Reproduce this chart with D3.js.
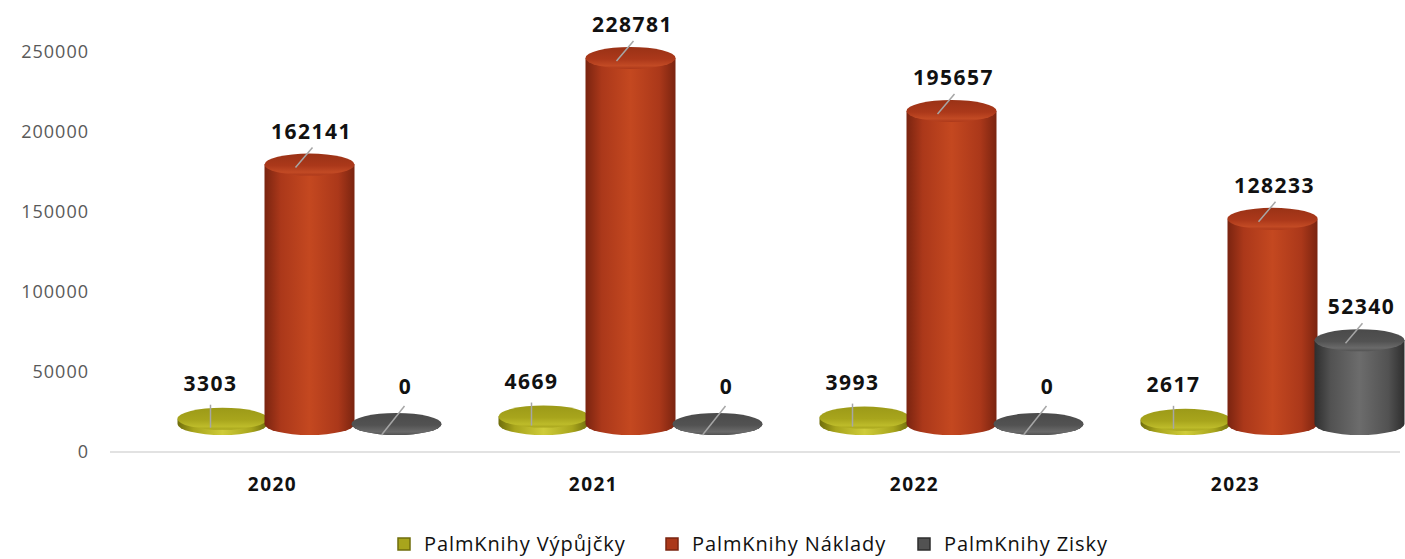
<!DOCTYPE html>
<html>
<head>
<meta charset="utf-8">
<script src="https://cdn.jsdelivr.net/npm/d3@7"></script>
<style>
  body { margin: 0; background: #fff; }
  svg { font-family: "Open Sans", Lato, sans-serif; }
</style>
</head>
<body>
<svg id="chart" width="1405" height="559"></svg>
<script>
const years = ["2020", "2021", "2022", "2023"];
const series = ["PalmKnihy Výpůjčky", "PalmKnihy Náklady", "PalmKnihy Zisky"];
const vypujcky = [3303, 4669, 3993, 2617];
const naklady = [162141, 228781, 195657, 128233];
const zisky = [0, 0, 0, 52340];
const yTicks = [0, 50000, 100000, 150000, 200000, 250000];

const values = [vypujcky, naklady, zisky];
const colors = [
  { dark: "#6f6d0c", mid: "#a8a51c", light: "#cfcc3a", top: "#bdbb2a", cap: "#9c9a18" },
  { dark: "#7a2410", mid: "#ab381a", light: "#c44820", top: "#c24a24", cap: "#9a3216" },
  { dark: "#2e2e2e", mid: "#525252", light: "#6c6c6c", top: "#6a6a6a", cap: "#4a4a4a" }
];

const svg = d3.select("#chart");
const defs = svg.append("defs");

colors.forEach((c, i) => {
  const g = defs.append("linearGradient").attr("id", "body" + i)
    .attr("x1", 0).attr("x2", 1).attr("y1", 0).attr("y2", 0);
  g.append("stop").attr("offset", "0%").attr("stop-color", c.dark);
  g.append("stop").attr("offset", "18%").attr("stop-color", c.mid);
  g.append("stop").attr("offset", "50%").attr("stop-color", c.light);
  g.append("stop").attr("offset", "82%").attr("stop-color", c.mid);
  g.append("stop").attr("offset", "100%").attr("stop-color", c.dark);
  const t = defs.append("linearGradient").attr("id", "top" + i)
    .attr("x1", 0).attr("x2", 0).attr("y1", 0).attr("y2", 1);
  t.append("stop").attr("offset", "0%").attr("stop-color", c.cap);
  t.append("stop").attr("offset", "55%").attr("stop-color", c.mid);
  t.append("stop").attr("offset", "85%").attr("stop-color", c.top);
  t.append("stop").attr("offset", "100%").attr("stop-color", c.mid);
});

const y = d3.scaleLinear().domain([0, 250000]).range([452, 52]);
const x = d3.scaleBand().domain(years).range([112, 1396]);
const xs = d3.scalePoint().domain(series).range([-87, 87]);

const depth = 28;   // bars sit behind the front edge of the floor
const shiftX = 37;
const rx = 45, ry = 11;

// floor line
svg.append("line")
  .attr("x1", 110).attr("x2", 1400)
  .attr("y1", y(0)).attr("y2", y(0))
  .attr("stroke", "#d9d9d9").attr("stroke-width", 1.5);

// y axis
const yAxis = d3.axisLeft(y).tickValues(yTicks).tickSize(0).tickPadding(0)
  .tickFormat(d3.format("d"));
const ya = svg.append("g").attr("transform", "translate(89,0)").call(yAxis);
ya.select(".domain").remove();
ya.selectAll("text").attr("font-size", 18).attr("fill", "#595959")
  .attr("letter-spacing", 1).attr("font-family", "'Open Sans', sans-serif");

// x axis labels
const xAxis = d3.axisBottom(x).tickSize(0).tickPadding(0);
const xa = svg.append("g").attr("transform", "translate(0,477)").call(xAxis);
xa.select(".domain").remove();
xa.selectAll("text").attr("font-size", 19).attr("font-weight", "bold")
  .attr("letter-spacing", 1.5)
  .attr("fill", "#111").attr("font-family", "'Open Sans', sans-serif");

const bars = [];
years.forEach((yr, i) => {
  series.forEach((s, j) => {
    bars.push({ yr, s, j, v: values[j][i] });
  });
});

const g = svg.append("g");
bars.forEach(b => {
  const cx = x(b.yr) + x.bandwidth() / 2 + shiftX + xs(b.s);
  const base = y(0) - depth;
  const top = y(b.v) - depth;
  b.cx = cx; b.top = top;
  const grp = g.append("g");
  grp.append("path")
    .attr("d", `M${cx - rx},${top} L${cx - rx},${base} A${rx},${ry} 0 0 0 ${cx + rx},${base} L${cx + rx},${top} Z`)
    .attr("fill", `url(#body${b.j})`);
  grp.append("ellipse")
    .attr("cx", cx).attr("cy", top).attr("rx", rx).attr("ry", ry)
    .attr("fill", `url(#top${b.j})`);
});

// data labels with leader lines
bars.forEach(b => {
  let lx, ly, l1, l2;
  if (b.v > 10000) {
    lx = b.cx + 2; ly = b.top - 26;
    l1 = [b.cx - 14, b.top + 3]; l2 = [b.cx + 3, b.top - 17];
  } else if (b.j === 0) {
    lx = b.cx - 12; ly = b.top - 28;
    l1 = [b.cx - 12, b.top + 9]; l2 = [b.cx - 12, b.top - 14];
  } else {
    lx = b.cx + 9; ly = b.top - 30;
    l1 = [b.cx - 15, b.top + 11]; l2 = [b.cx + 8, b.top - 18];
  }
  g.append("line")
    .attr("x1", l1[0]).attr("y1", l1[1]).attr("x2", l2[0]).attr("y2", l2[1])
    .attr("stroke", "#a6a6a6").attr("stroke-width", 1.5);
  g.append("text")
    .attr("x", lx).attr("y", ly)
    .attr("text-anchor", "middle")
    .attr("font-size", 21).attr("font-weight", "bold").attr("fill", "#111")
    .attr("letter-spacing", 1.5)
    .text(b.v);
});

// legend
const legX = [398, 666, 918];
const leg = svg.append("g");
series.forEach((s, j) => {
  leg.append("rect")
    .attr("x", legX[j]).attr("y", 538).attr("width", 12).attr("height", 12)
    .attr("fill", colors[j].mid).attr("stroke", colors[j].dark).attr("stroke-width", 1.5);
  leg.append("text")
    .attr("x", legX[j] + 26).attr("y", 551)
    .attr("font-size", 20).attr("fill", "#111")
    .attr("letter-spacing", 0.9)
    .text(s);
});
</script>
</body>
</html>
